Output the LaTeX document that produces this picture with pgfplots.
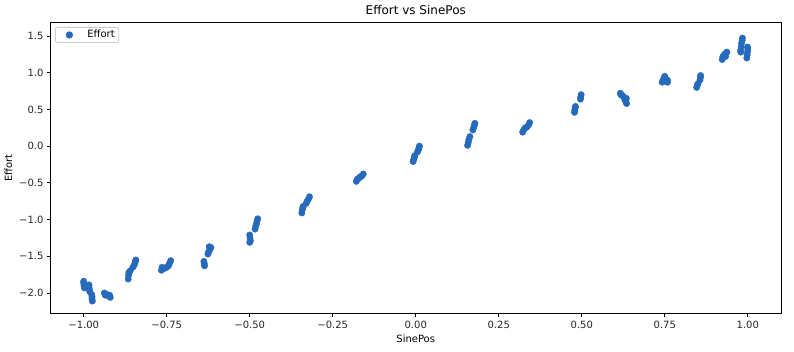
\documentclass[border=0pt]{standalone}
\usepackage{fontspec}
\setmainfont{DejaVu Sans}
\usepackage{pgfplots}
\pgfplotsset{compat=1.18}
\definecolor{ptblue}{RGB}{38,107,187}
\definecolor{txt}{RGB}{38,38,38}
\definecolor{legframe}{RGB}{204,204,204}
\begin{document}
\fontsize{10pt}{12pt}\selectfont
\begin{tikzpicture}
\begin{axis}[
  name=ax, at={(0,0)}, anchor=south west,
  scale only axis, width=730.5pt, height=291.2pt,
  xmin=-1.1, xmax=1.1, ymin=-2.282, ymax=1.683,
  axis line style={black, line width=0.8pt},
  tick align=outside, xtick pos=bottom, ytick pos=left,
  major tick length=3.5pt,
  tick style={black, line width=0.8pt},
  xtick={-1,-0.75,-0.5,-0.25,0,0.25,0.5,0.75,1},
  xticklabels={−1.00,−0.75,−0.50,−0.25,0.00,0.25,0.50,0.75,1.00},
  ytick={-2,-1.5,-1,-0.5,0,0.5,1,1.5},
  yticklabels={−2.0,−1.5,−1.0,−0.5,0.0,0.5,1.0,1.5},
  ticklabel style={font=\fontsize{10pt}{12pt}\selectfont, text=txt},
  title={Effort vs SinePos},
  title style={font=\fontsize{12pt}{14pt}\selectfont, yshift=-2pt},
  xlabel={SinePos}, ylabel={Effort},
  label style={font=\fontsize{10pt}{12pt}\selectfont},
  legend style={at={(0,1)}, anchor=north west, xshift=4.5pt, yshift=-4.5pt,
    draw=legframe, line width=0.8pt, rounded corners=2pt, font=\fontsize{10pt}{12pt}\selectfont,
    inner xsep=2pt, inner ysep=1pt, nodes={inner sep=2pt}},
  legend image code/.code={%
    \path[draw=none, fill=none] (-12pt,-6pt) rectangle (16pt,6pt);
    \draw[#1] plot coordinates {(0pt,0pt)};},
  legend cell align=left,
]
\addplot[only marks, mark=*, mark size=3.2pt, color=ptblue, mark options={draw=ptblue, fill=ptblue}] coordinates {
(-1.0,-1.84) (-1.0,-1.86) (-0.999,-1.88) (-0.999,-1.90) (-0.998,-1.93)
(-0.984,-1.89) (-0.984,-1.92) (-0.983,-1.95) (-0.982,-1.98)
(-0.976,-2.02) (-0.975,-2.05) (-0.975,-2.08) (-0.974,-2.11)
(-0.938,-2.00) (-0.935,-2.03) (-0.93,-2.02) (-0.925,-2.04) (-0.92,-2.06) (-0.922,-2.03)
(-0.866,-1.81) (-0.865,-1.76) (-0.864,-1.72) (-0.86,-1.70) (-0.852,-1.65) (-0.848,-1.62) (-0.845,-1.58) (-0.843,-1.55)
(-0.766,-1.69) (-0.764,-1.65) (-0.76,-1.67) (-0.755,-1.66) (-0.75,-1.65) (-0.745,-1.63) (-0.742,-1.60) (-0.738,-1.56)
(-0.638,-1.57) (-0.637,-1.60) (-0.636,-1.63)
(-0.626,-1.47) (-0.624,-1.44) (-0.62,-1.41) (-0.617,-1.38) (-0.622,-1.37)
(-0.5,-1.21) (-0.499,-1.25) (-0.498,-1.29) (-0.5,-1.31)
(-0.484,-1.13) (-0.482,-1.09) (-0.48,-1.06) (-0.478,-1.02) (-0.476,-0.99)
(-0.343,-0.91) (-0.342,-0.87) (-0.34,-0.84) (-0.339,-0.82)
(-0.33,-0.78) (-0.327,-0.75) (-0.323,-0.72) (-0.32,-0.69)
(-0.179,-0.48) (-0.176,-0.45) (-0.172,-0.44) (-0.168,-0.42) (-0.163,-0.41) (-0.158,-0.38)
(-0.008,-0.21) (-0.006,-0.18) (-0.004,-0.15) (-0.003,-0.13)
(0.005,-0.08) (0.008,-0.05) (0.01,-0.02) (0.011,0.0)
(0.156,0.01) (0.158,0.05) (0.16,0.09) (0.163,0.13) (0.172,0.22) (0.175,0.26) (0.177,0.29) (0.178,0.31)
(0.322,0.19) (0.325,0.22) (0.33,0.25) (0.335,0.26) (0.34,0.29) (0.343,0.32)
(0.478,0.46) (0.479,0.49) (0.48,0.52) (0.481,0.54)
(0.496,0.64) (0.497,0.67) (0.498,0.70)
(0.616,0.72) (0.618,0.70) (0.622,0.69) (0.626,0.67) (0.63,0.63) (0.633,0.60) (0.635,0.58) (0.634,0.65)
(0.742,0.87) (0.745,0.90) (0.748,0.93) (0.75,0.95) (0.752,0.92) (0.755,0.88) (0.758,0.87) (0.758,0.90)
(0.846,0.80) (0.848,0.83) (0.85,0.85) (0.856,0.90) (0.857,0.93) (0.858,0.96)
(0.923,1.18) (0.925,1.22) (0.93,1.25) (0.935,1.27) (0.937,1.28) (0.933,1.22)
(0.978,1.30) (0.98,1.35) (0.981,1.40) (0.983,1.44) (0.984,1.47) (0.979,1.28)
(0.997,1.20) (0.998,1.24) (0.999,1.28) (1.0,1.32) (0.999,1.35)
};
\addlegendentry{Effort}
\end{axis}
\pgfresetboundingbox
\path (-50.5pt,-37.3pt) rectangle (743.5pt,313.7pt);
\end{tikzpicture}
\end{document}
